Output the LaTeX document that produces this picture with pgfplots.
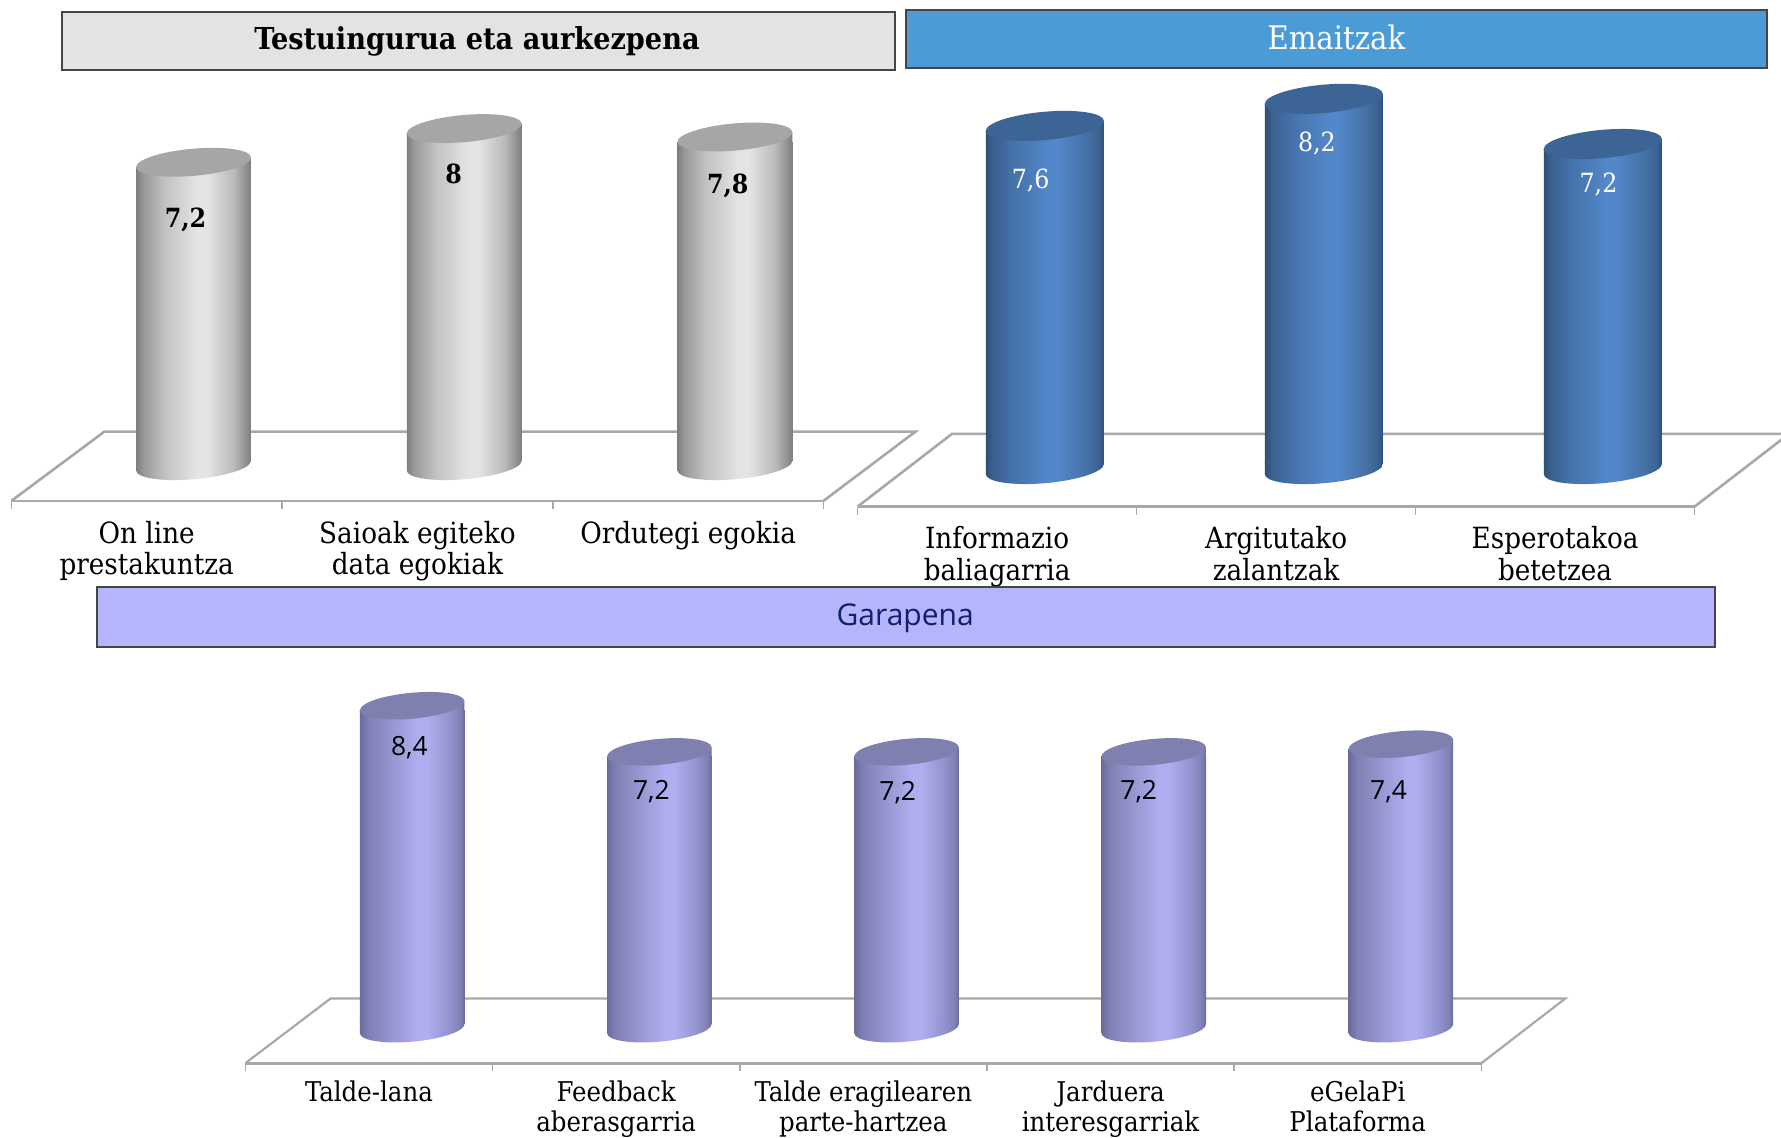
\documentclass[border=0pt]{standalone}
\usepackage{fontspec}
\usepackage{pgfplots}
\usepackage{pgfplotstable}
\pgfplotsset{compat=1.18}
\setmainfont{DejaVu Serif Condensed}
\newfontfamily\sansf{Open Sans}
\definecolor{floorc}{HTML}{A8A8A8}
\definecolor{boxedge}{HTML}{454545}
\definecolor{a0}{HTML}{7E7E7E}\definecolor{a1}{HTML}{989898}\definecolor{a2}{HTML}{C2C2C2}\definecolor{a3}{HTML}{E4E4E4}\definecolor{a4}{HTML}{BABABA}\definecolor{a5}{HTML}{8E8E8E}
\pgfdeclarehorizontalshading{cylA}{100bp}{
 color(0bp)=(a0); color(25bp)=(a0); color(28bp)=(a1); color(37.5bp)=(a2); color(51.5bp)=(a3); color(56bp)=(a3); color(67.5bp)=(a4); color(73bp)=(a5); color(75bp)=(a0); color(100bp)=(a0)}
\definecolor{b0}{HTML}{2F4F78}\definecolor{b1}{HTML}{3A6190}\definecolor{b2}{HTML}{4674AC}\definecolor{b3}{HTML}{5287C9}\definecolor{b4}{HTML}{446FA2}
\pgfdeclarehorizontalshading{cylB}{100bp}{
 color(0bp)=(b0); color(25bp)=(b0); color(28bp)=(b1); color(37.5bp)=(b2); color(51.5bp)=(b3); color(56bp)=(b3); color(68.5bp)=(b4); color(73bp)=(b1); color(75bp)=(b0); color(100bp)=(b0)}
\definecolor{c0}{HTML}{6B6B9B}\definecolor{c1}{HTML}{8080B4}\definecolor{c2}{HTML}{9696D0}\definecolor{c3}{HTML}{AEAEF0}\definecolor{c4}{HTML}{9292CC}
\pgfdeclarehorizontalshading{cylC}{100bp}{
 color(0bp)=(c0); color(25bp)=(c0); color(29bp)=(c1); color(40bp)=(c2); color(52.5bp)=(c3); color(57.5bp)=(c3); color(68bp)=(c4); color(73bp)=(c1); color(75bp)=(c0); color(100bp)=(c0)}
\definecolor{topa}{HTML}{A6A6A6}\definecolor{topb}{HTML}{3C6494}\definecolor{topc}{HTML}{8080B0}
% #1 name, #2 x shift, #3 half width, #4 half rise, #5 minor semi-axis, #6 shading, #7 top colour (all lengths in pt, without unit)
\newcommand\cylmarks[7]{%
 \pgfdeclareplotmark{bot#1}{\pgfscope
  \pgftransformshift{\pgfqpoint{#2pt}{0pt}}%
  \pgfscope\pgfsetfillcolor{white}\pgfpathrectanglecorners{\pgfpoint{-#3pt-0.7pt}{-#4pt-#5pt-2pt}}{\pgfpoint{#3pt+0.7pt}{#4pt}}\pgfusepathqfill\endpgfscope
  \pgfpathellipse{\pgfpointorigin}{\pgfqpoint{#3pt}{#4pt}}{\pgfqpoint{0pt}{#5pt}}\pgfshadepath{#6}{0}\pgfusepath{discard}%
  \pgfpathmoveto{\pgfpoint{-#3pt}{-#4pt}}\pgfpathlineto{\pgfpoint{#3pt}{#4pt}}\pgfpathlineto{\pgfpoint{#3pt}{#4pt+0.8pt}}\pgfpathlineto{\pgfpoint{-#3pt}{#4pt+0.8pt}}\pgfpathclose
  \pgfshadepath{#6}{0}\pgfusepath{discard}%
 \endpgfscope}%
 \pgfdeclareplotmark{top#1}{\pgfscope
  \pgftransformshift{\pgfqpoint{#2pt}{0pt}}%
  \pgfscope\pgfsetfillcolor{white}\pgfpathrectanglecorners{\pgfpoint{-#3pt-0.7pt}{-#4pt}}{\pgfpoint{#3pt+0.7pt}{#4pt+#5pt+2pt}}\pgfusepathqfill\endpgfscope
  \pgfpathmoveto{\pgfpoint{-#3pt}{-#4pt-0.8pt}}\pgfpathlineto{\pgfpoint{-#3pt}{-#4pt}}\pgfpathlineto{\pgfpoint{#3pt}{#4pt}}\pgfpathlineto{\pgfpoint{#3pt}{-#4pt-0.8pt}}\pgfpathclose
  \pgfshadepath{#6}{0}\pgfusepath{discard}%
  \pgfsetfillcolor{#7}\pgfpathellipse{\pgfpointorigin}{\pgfqpoint{#3pt}{#4pt}}{\pgfqpoint{0pt}{#5pt}}\pgfusepathqfill
 \endpgfscope}}
\cylmarks{A}{23.4}{28.7}{2.4}{6.8}{cylA}{topa}
\cylmarks{B}{23.85}{29.53}{2.5}{7.1}{cylB}{topb}
\cylmarks{C}{21.6}{26.12}{2.25}{6.5}{cylC}{topc}
\pgfplotstableread{
x y dx dy
1 7.2 19.4 -28.7
2 8.0 18.1 -22.6
3 7.8 19.8 -24.7
}\tabA
\pgfplotstableread{
x y dx dy
1 7.6 16.8 -27.5
2 8.2 20.4 -22.3
3 7.2 21.7 -20.3
}\tabB
\pgfplotstableread{
x y dx dy
1 8.4 20.2 -21.2
2 7.2 17.6 -20.0
3 7.2 17.2 -20.6
4 7.2 14.1 -20.0
5 7.4 15.4 -24.0
}\tabC
\pgfplotsset{cyl/.style={
  scale only axis, clip=false, ymax=10, xmin=0.5,
  axis y line=none, axis x line=bottom,
  x axis line style={-,draw=floorc,line width=1.3pt},
  major tick length=0pt, minor tick length=4pt, xtick align=outside,
  minor tick style={draw=floorc,line width=0.8pt},
  xticklabel style={align=center,text=black},
  /pgf/number format/use comma,
  /pgf/number format/assume math mode=true,
 },
 lab/.style={
  only marks,point meta=y,nodes near coords,
  visualization depends on={\thisrow{dx} \as \ndx},
  visualization depends on={\thisrow{dy} \as \ndy},
  nodes near coords style={anchor=center,xshift=\ndx pt,yshift=\ndy pt},
 },
 barA/.style={ybar,bar shift=23.4pt,bar width=57.4pt,draw=none,shade,shading=cylA},
 barB/.style={ybar,bar shift=23.85pt,bar width=59.06pt,draw=none,shade,shading=cylB},
 barC/.style={ybar,bar shift=21.6pt,bar width=52.25pt,draw=none,shade,shading=cylC},
 }
\begin{document}
\begin{tikzpicture}
\path[use as bounding box] (0pt,0pt) rectangle (890.5pt,568.5pt);
% Chart 1
\begin{axis}[cyl, at={(5.68pt,318.06pt)}, anchor=south west, width=406.05pt, height=228.3pt,
  xmax=3.5, ymin=-0.836, xtick={1,2,3}, minor xtick={0.5,1.5,2.5,3.5},
  xticklabels={{On line\\prestakuntza},{Saioak egiteko\\data egokiak},{Ordutegi egokia\\\phantom{x}}},
  xticklabel style={font=\fontsize{14.6}{15.9}\selectfont,yshift=-6.5pt}]
\addplot[draw=floorc,line width=1.3pt,forget plot] coordinates {(0.5,-0.836)(0.844,0.809)(3.84,0.809)(3.5,-0.836)};
\addplot[barA] coordinates {(1,7.2)};
\addplot[barA] coordinates {(2,8.0)};
\addplot[barA] coordinates {(3,7.8)};
\addplot[only marks,mark=botA] coordinates {(1,0)(2,0)(3,0)};
\addplot[lab,mark=topA,
  nodes near coords style={text=black,font=\fontsize{13.2}{15}\selectfont\bfseries}] table[x=x,y=y]{\tabA};
\end{axis}
% Chart 2
\begin{axis}[cyl, at={(428.8pt,315.2pt)}, anchor=south west, width=418.5pt, height=244.5pt,
  xmax=3.5, ymin=-0.833, xtick={1,2,3}, minor xtick={0.5,1.5,2.5,3.5},
  xticklabels={{Informazio\\baliagarria},{Argitutako\\zalantzak},{Esperotakoa\\betetzea}},
  xticklabel style={font=\fontsize{14.6}{15.9}\selectfont,yshift=-6.5pt}]
\addplot[draw=floorc,line width=1.3pt,forget plot] coordinates {(0.5,-0.833)(0.838,0.777)(3.838,0.777)(3.5,-0.833)};
\addplot[barB] coordinates {(1,7.6)};
\addplot[barB] coordinates {(2,8.2)};
\addplot[barB] coordinates {(3,7.2)};
\addplot[only marks,mark=botB] coordinates {(1,0)(2,0)(3,0)};
\addplot[lab,mark=topB,
  nodes near coords style={text=white,font=\fontsize{13.2}{15}\selectfont}] table[x=x,y=y]{\tabB};
\end{axis}
% Chart 3
\begin{axis}[cyl, at={(122.67pt,36.9pt)}, anchor=south west, width=618pt, height=209.5pt,
  xmax=5.5, ymin=-0.898, xtick={1,2,3,4,5}, minor xtick={0.5,1.5,2.5,3.5,4.5,5.5},
  xticklabels={{Talde-lana\\\phantom{x}},{Feedback\\aberasgarria},{Talde eragilearen\\parte-hartzea},{Jarduera\\interesgarriak},{eGelaPi\\Plataforma}},
  xticklabel style={font=\fontsize{13.6}{14.8}\selectfont,yshift=-5.5pt}]
\addplot[draw=floorc,line width=1.1pt,forget plot] coordinates {(0.5,-0.898)(0.845,0.786)(5.84,0.786)(5.5,-0.898)};
\addplot[barC] coordinates {(1,8.4)};
\addplot[barC] coordinates {(2,7.2)};
\addplot[barC] coordinates {(3,7.2)};
\addplot[barC] coordinates {(4,7.2)};
\addplot[barC] coordinates {(5,7.4)};
\addplot[only marks,mark=botC] coordinates {(1,0)(2,0)(3,0)(4,0)(5,0)};
\addplot[lab,mark=topC,
  nodes near coords style={text=black,font=\sansf\fontsize{13.2}{15}\selectfont}] table[x=x,y=y]{\tabC};
\end{axis}
% Header boxes
\draw[boxedge,line width=1pt,fill={rgb,255:red,227;green,227;blue,227}] (31.2pt,533.3pt) rectangle (447.5pt,562.25pt);
\node[text=black,font=\fontsize{15.1}{17}\selectfont\bfseries] at (238.5pt,547.7pt) {Testuingurua eta aurkezpena};
\draw[boxedge,line width=1pt,fill={rgb,255:red,74;green,155;blue,214}] (453pt,534.4pt) rectangle (883.7pt,563.4pt);
\node[text=white,font=\fontsize{16.2}{18}\selectfont] at (668.2pt,549.9pt) {Emaitzak};
\draw[boxedge,line width=1pt,fill={rgb,255:red,181;green,181;blue,253}] (48.3pt,244.8pt) rectangle (857.5pt,274.9pt);
\node[text={rgb,255:red,16;green,32;blue,110},font=\sansf\fontsize{15}{17}\selectfont] at (452.6pt,259.6pt) {Garapena};
\end{tikzpicture}
\end{document}
